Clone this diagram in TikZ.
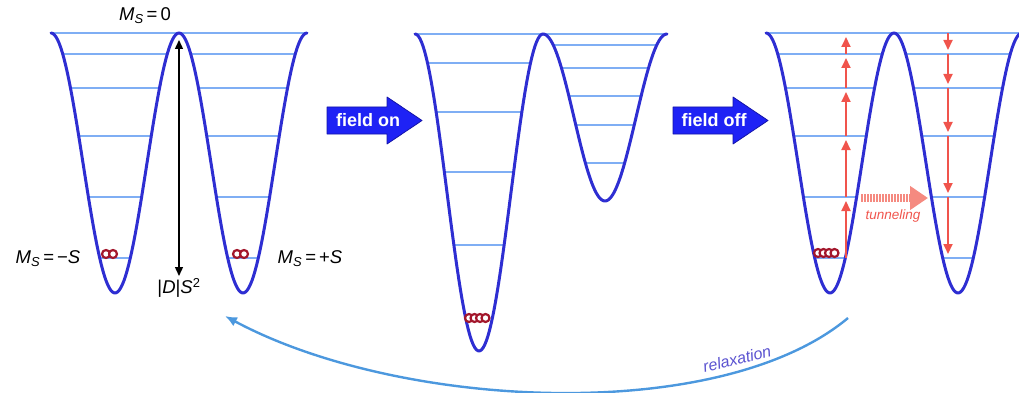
\documentclass[tikz,border=0pt]{standalone}
\usepackage{fontspec}
\setmainfont{Liberation Sans}
\usetikzlibrary{arrows.meta,positioning,calc}
\definecolor{cWell}{HTML}{2E2ED2}
\definecolor{cLevel}{HTML}{7FAEF4}
\definecolor{cField}{HTML}{1E22F5}
\definecolor{cFieldEdge}{HTML}{1414A8}
\definecolor{cHop}{HTML}{F0544C}
\definecolor{cTunnel}{HTML}{F58A80}
\definecolor{cRing}{HTML}{A3172C}
\definecolor{cRelax}{HTML}{4C98DE}
\definecolor{cRelaxText}{HTML}{5A52D0}
\tikzset{
  well/.style={draw=cWell,line width=3pt,line join=round,line cap=round},
  level/.style={draw=cLevel,line width=1.6pt},
  ring/.style={draw=cRing,fill=white,line width=2.2pt},
  hop/.style={-{Triangle[length=10pt,width=9pt]},draw=cHop,line width=1.8pt},
  gaparr/.style={{Triangle[length=9pt,width=8pt]}-{Triangle[length=9pt,width=8pt]},line width=1.4pt,draw=black},
  field/.style={fill=cField,draw=cFieldEdge,line width=0.8pt,line join=round},
  fieldlbl/.style={font=\fontsize{18}{20}\selectfont\bfseries,text=white,inner sep=0pt},
  mslbl/.style={font=\fontsize{18.5}{20}\selectfont,inner sep=1pt},
  tunnel/.style={-{Triangle[length=18pt,width=23pt]},draw=cTunnel,line width=8pt,dash pattern=on 1.6pt off 1.4pt},
  relax/.style={-{Latex[length=12pt,width=10pt]},draw=cRelax,line width=2.4pt},
}
% centre/period/top/bottom/levels of each well
\newcommand\wellspecs{115/128/33/293/{33,54,88,136,197,258},243/128/33/293/{33,54,88,136,197,258},
  479/128/34/351/{34,63,112,172,245},605/124/34/201/{34,45,68,96,125,163},
  830/128/33/293/{33,54,88,136,197,258},958/128/33/293/{33,54,88,136,197,258}}

\begin{document}
\begin{tikzpicture}[x=1pt,y=-1pt]
  \useasboundingbox (0,0) rectangle (1019,393);
  % energy levels, then the wells over them
  \foreach \c/\p/\t/\b/\ls in \wellspecs{
    \foreach \yl in \ls{
      \pgfmathsetmacro\w{\p/360*acos(max(-1,1-2*(\b-\yl)/(\b-\t)))}
      \draw[level] (\c-\w,\yl) -- (\c+\w,\yl);}}
  \foreach \c/\p/\t/\b/\ls in \wellspecs{
    \pgfmathsetmacro\xa{\c-\p/2}
    \pgfmathsetmacro\xb{\c+\p/2}
    \draw[well] plot[domain=\xa:\xb,samples=80] (\x,{(\t+\b)/2+(\b-\t)/2*cos((\x-\c)/\p*360)});}

  % zero field
  \node[mslbl] (ms0) at (145,16) {\textit{M}\textsubscript{\textit{S}}\,=\,0};
  \node[mslbl] (msneg) at (48,259) {\textit{M}\textsubscript{\textit{S}}\,=\,−\textit{S}};
  \node[mslbl] (mspos) at (310,259) {\textit{M}\textsubscript{\textit{S}}\,=\,+\textit{S}};
  \coordinate (barTop) at (179,40);
  \coordinate (barBot) at (179,276);
  \draw[gaparr] (barTop) -- (barBot);
  \node[mslbl,below=1pt of barBot] (gap) {|\textit{D}|\textit{S}\textsuperscript{2}};
  \foreach \x in {106,113,237,244}
    \draw[ring] (\x,254) circle (4);

  % field arrows
  \foreach \x/\t/\n in {327/field on/fon,673/field off/foff}{
    \path[field] (\x,107) -- (\x+60,107) -- (\x+60,97) -- (\x+95,120.5) -- (\x+60,144) -- (\x+60,134) -- (\x,134) -- cycle;
    \node[fieldlbl] (\n) at (\x+41,120) {\t};}

  % populations
  \foreach \x in {469,474.5,480,485.5}
    \draw[ring] (\x,318) circle (4);
  \foreach \x in {818,823.5,829,834.5}
    \draw[ring] (\x,253) circle (4);

  % climbing and falling steps
  \foreach \a/\b in {258/197,197/136,136/88,88/54,54/33}{
    \draw[hop] (846,\a) -- (846,\b+4);
    \draw[hop] (948,\b) -- (948,\a-4);}
  \coordinate (tunFrom) at (861,198);
  \coordinate (tunTo) at (928,198);
  \draw[tunnel] (tunFrom) -- (tunTo);
  \node[font=\fontsize{13.5}{15}\selectfont\itshape,text=cHop] (tunLbl) at (893,216) {tunneling};

  % back to start
  \coordinate (relaxFrom) at (848,318);
  \coordinate (relaxTo) at (225,316);
  \draw[relax] (relaxFrom) .. controls (720,425) and (400,410) .. (relaxTo);
  \node[font=\fontsize{16}{18}\selectfont\itshape,text=cRelaxText,rotate=14] (relaxLbl) at (737,359) {relaxation};
\end{tikzpicture}
\end{document}
